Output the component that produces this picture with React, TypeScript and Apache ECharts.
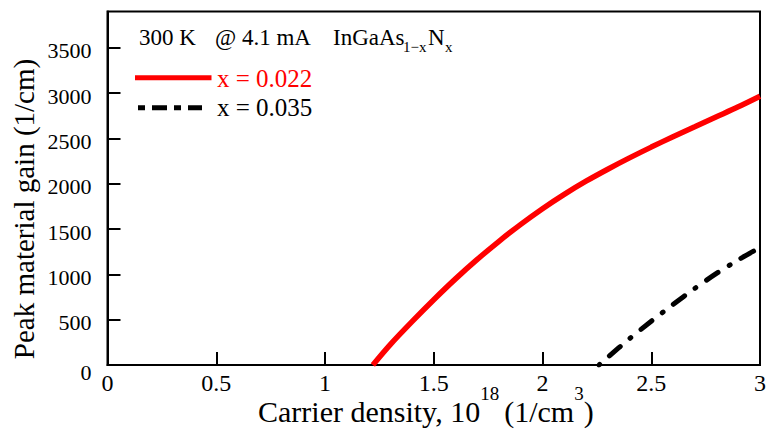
import React, { useEffect, useRef } from "react";
import * as echarts from "echarts";

// x = 0.022 series
const redDensity = [1.22, 1.3, 1.4, 1.5, 1.6, 1.7, 1.8, 1.9, 2.0, 2.1, 2.2, 2.3, 2.4, 2.5, 2.6, 2.7, 2.8, 2.9, 3.0];
const redGain = [0, 225, 478, 720, 950, 1165, 1365, 1552, 1725, 1883, 2028, 2160, 2285, 2404, 2518, 2628, 2738, 2848, 2965];
// x = 0.035 series
const blackDensity = [2.26, 2.3, 2.4, 2.5, 2.6, 2.7, 2.8, 2.9, 3.0];
const blackGain = [0, 85, 290, 483, 667, 845, 1010, 1160, 1295];

const seriesNames = ["x = 0.022", "x = 0.035"];
const xTitle = ["Carrier density, 10", "18", "(1/cm", "3", ")"];
const yTitle = "Peak material gain (1/cm)";
const header = ["300 K", "@ 4.1 mA", "InGaAs", "1\u2212x", "N", "x"];

const FONT = "Liberation Serif, Times New Roman, serif";

function measure(text: string, size: number): number {
  const c = document.createElement("canvas");
  const ctx = c.getContext("2d");
  if (!ctx) return text.length * size * 0.5;
  ctx.font = `${size}px "Liberation Serif"`;
  return ctx.measureText(text).width;
}

// y of middle for a desired alphabetic baseline
const mid = (baseline: number, size: number) => baseline - 0.34 * size;

function txt(x: number, baseline: number, s: string, size: number, color = "#000") {
  return {
    type: "text",
    x,
    y: mid(baseline, size),
    style: { text: s, fontSize: size, fontFamily: FONT, fill: color, align: "left", verticalAlign: "middle" },
  };
}

export default function App() {
  const ref = useRef<HTMLDivElement>(null);
  useEffect(() => {
    if (!ref.current) return;
    const chart = echarts.init(ref.current, null, { renderer: "svg" });

    // x-axis title pieces laid out consecutively
    const mainSize = 30;
    const supSize = 19;
    const gaps = [0, 0, 5, 0, 0];
    const sizes = [mainSize, supSize, mainSize, supSize, mainSize];
    const baselines = [421.5, 400, 421.5, 400, 421.5];
    const xt: any[] = [];
    let cx = 258;
    xTitle.forEach((p, i) => {
      cx += gaps[i];
      xt.push(txt(cx, baselines[i], p, sizes[i]));
      cx += measure(p, sizes[i]);
    });

    const graphics: any[] = [
      txt(139, 45.5, header[0], 23),
      txt(215, 45.5, header[1], 23),
      txt(333, 45.5, header[2], 23),
      txt(403, 52, header[3], 15),
      txt(428, 45.5, header[4], 23),
      txt(445, 52, header[5], 15),
      {
        type: "line",
        shape: { x1: 135, y1: 77.7, x2: 211.5, y2: 77.7 },
        style: { stroke: "#ff0000", lineWidth: 5 },
      },
      {
        type: "line",
        shape: { x1: 138, y1: 107.7, x2: 202, y2: 107.7 },
        style: { stroke: "#000", lineWidth: 5, lineDash: [7, 7, 15, 7] },
      },
      txt(217, 86.7, seriesNames[0], 25, "#ff0000"),
      txt(217, 115.5, seriesNames[1], 25, "#000"),
      ...xt,
      {
        type: "text",
        x: 24,
        y: 209,
        rotation: Math.PI / 2,
        style: {
          text: yTitle,
          fontSize: 29,
          fontFamily: FONT,
          fill: "#000",
          align: "center",
          verticalAlign: "middle",
        },
      },
    ];

    const yLab = { fontSize: 22, fontFamily: FONT, color: "#000" };

    chart.setOption({
      animation: false,
      backgroundColor: "#fff",
      grid: {
        left: 107.5,
        right: 5,
        top: 11.5,
        bottom: 69,
        show: true,
        borderColor: "#000",
        borderWidth: 2,
        backgroundColor: "transparent",
      },
      xAxis: {
        type: "value",
        min: 0,
        max: 3,
        interval: 0.5,
        axisLine: { show: true, lineStyle: { color: "#000", width: 2 } },
        axisTick: { show: true, inside: true, length: 13, lineStyle: { color: "#000", width: 2 } },
        splitLine: { show: false },
        axisLabel: {
          margin: 6,
          fontSize: 24,
          fontFamily: FONT,
          color: "#000",
          formatter: (v: number) => String(v),
        },
      },
      yAxis: {
        type: "value",
        min: 0,
        max: 3900,
        interval: 500,
        axisLine: { show: true, lineStyle: { color: "#000", width: 2 } },
        axisTick: { show: true, inside: true, length: 13, lineStyle: { color: "#000", width: 2 } },
        splitLine: { show: false },
        axisLabel: {
          margin: 16,
          ...yLab,
          showMaxLabel: false,
          formatter: (v: number) => (v > 3500 ? "" : v === 0 ? "{z|0}" : `{a|${v}}`),
          rich: {
            a: { ...yLab, padding: [6, 0, 0, 0] },
            z: { ...yLab, padding: [14, 0, 0, 0] },
          },
        },
      },
      series: [
        {
          name: seriesNames[0],
          type: "line",
          data: redDensity.map((d, i) => [d, redGain[i]]),
          showSymbol: false,
          smooth: 0.3,
          lineStyle: { color: "#ff0000", width: 5.5 },
          clip: true,
        },
        {
          name: seriesNames[1],
          type: "line",
          data: blackDensity.map((d, i) => [d, blackGain[i]]),
          showSymbol: false,
          smooth: 0.3,
          lineStyle: { color: "#000", width: 5, type: [14, 13, 1, 13], dashOffset: 27, cap: "round" },
          clip: true,
        },
      ],
      graphic: graphics,
    });
    return () => chart.dispose();
  }, []);
  return (
    <div
      ref={ref}
      style={{ position: "fixed", left: 0, top: 0, width: 769, height: 434, background: "#fff" }}
    />
  );
}
